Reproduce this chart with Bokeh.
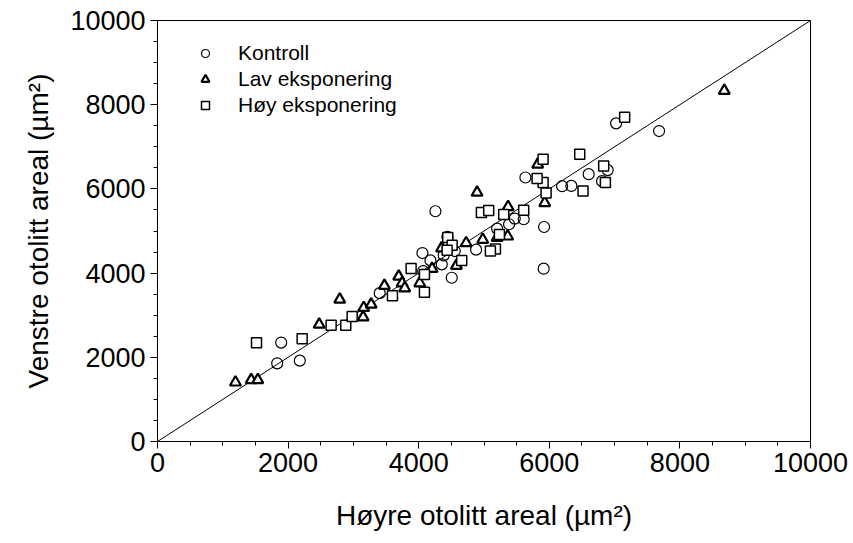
from bokeh.plotting import figure
from bokeh.models import Range1d, SingleIntervalTicker, Legend, LegendItem
from bokeh.embed import file_html
from bokeh.resources import INLINE

# ---- data ----
kontroll_x = [1833, 1894, 2179, 3403, 4068, 4057, 4180, 4353, 4506, 4256, 4440, 4383,
              4552, 4879, 5201, 5384, 5471, 5608, 5920, 5914, 5634, 6196, 6338, 6603,
              6894, 6808, 7023, 7681]
kontroll_y = [1857, 2350, 1921, 3524, 4048, 4476, 4302, 4207, 3890, 5469, 4860, 4422,
              4524, 4557, 5057, 5160, 5295, 5279, 5095, 4105, 6271, 6064, 6071, 6350,
              6446, 6184, 7557, 7374]

lav_x = [1194, 1435, 1536, 2476, 2791, 3149, 3158, 3272, 3475, 3694, 3746, 3786,
         4016, 4205, 4578, 4350, 4726, 4981, 4894, 5369, 5201, 5363, 5930, 5823, 8680]
lav_y = [1405, 1462, 1462, 2779, 3374, 2952, 3176, 3255, 3700, 3921, 3762, 3643,
         3762, 4105, 4176, 4590, 4714, 4795, 5914, 5572, 4843, 4874, 5667, 6581, 8333]

hoy_x = [1516, 2215, 2659, 2883, 2981, 3598, 3884, 4088, 4088, 4659, 4445, 4512,
         4435, 4960, 5072, 5302, 5608, 5236, 5175, 5098, 5951, 5905, 5813, 5905,
         6466, 6517, 6833, 6859, 7154]
hoy_y = [2343, 2438, 2762, 2762, 2969, 3462, 4112, 3548, 3969, 4302, 4843, 4660,
         4541, 5438, 5486, 5390, 5493, 4914, 4571, 4524, 5905, 6152, 6247, 6707,
         6826, 5952, 6541, 6152, 7700]

line_x = [0, 10000]
line_y = [0, 10000]

axis_min, axis_max = 0, 10000
major_step = 2000

labels = ["Kontroll", "Lav eksponering", "Høy eksponering"]
x_title = "Høyre otolitt areal (µm²)"
y_title = "Venstre otolitt areal (µm²)"

# ---- layout ----
W, H = 853, 543
FONT = "Liberation Sans"

p = figure(width=W, height=H, output_backend="svg", toolbar_location=None,
           x_range=Range1d(axis_min, axis_max), y_range=Range1d(axis_min, axis_max),
           min_border_left=157, min_border_right=43, min_border_top=20, min_border_bottom=102)
p.grid.visible = False
p.outline_line_color = "black"
p.outline_line_width = 1
p.background_fill_color = "white"
p.border_fill_color = "white"

for ax in (p.xaxis[0], p.yaxis[0]):
    ax.ticker = SingleIntervalTicker(interval=major_step, num_minor_ticks=4)
    ax.axis_line_color = "black"
    ax.major_tick_line_color = "black"
    ax.minor_tick_line_color = "black"
    ax.major_tick_in = 0
    ax.major_tick_out = 7
    ax.minor_tick_in = 0
    ax.minor_tick_out = 4
    ax.major_label_text_font = FONT
    ax.major_label_text_font_size = "27px"
    ax.major_label_text_color = "black"
    ax.axis_label_text_font = FONT
    ax.axis_label_text_font_size = "28px"
    ax.axis_label_text_font_style = "normal"
    ax.axis_label_text_color = "black"
p.xaxis.major_label_standoff = 4
p.yaxis.major_label_standoff = 5
p.xaxis.axis_label = x_title
p.yaxis.axis_label = y_title
p.xaxis.axis_label_standoff = 25
p.yaxis.axis_label_standoff = 13

p.line(line_x, line_y, line_color="black", line_width=1)

rc = p.scatter(kontroll_x, kontroll_y, marker="circle", size=11, fill_alpha=0,
               line_color="black", line_width=1.2)
rt = p.scatter(lav_x, lav_y, marker="triangle", size=11, fill_color="white",
               line_color="black", line_width=2.2)
rs = p.scatter(hoy_x, hoy_y, marker="square", size=10, fill_color="white",
               line_color="black", line_width=1.5)

legend = Legend(items=[LegendItem(label=labels[0], renderers=[rc]),
                       LegendItem(label=labels[1], renderers=[rt]),
                       LegendItem(label=labels[2], renderers=[rs])],
                location="top_left", margin=21, padding=0, glyph_width=54, glyph_height=20,
                label_standoff=6, spacing=2, border_line_color=None,
                background_fill_alpha=0, label_text_font=FONT,
                label_text_font_size="21px", label_text_color="black")
p.add_layout(legend)

open("out.html", "w").write(file_html(p, INLINE))
